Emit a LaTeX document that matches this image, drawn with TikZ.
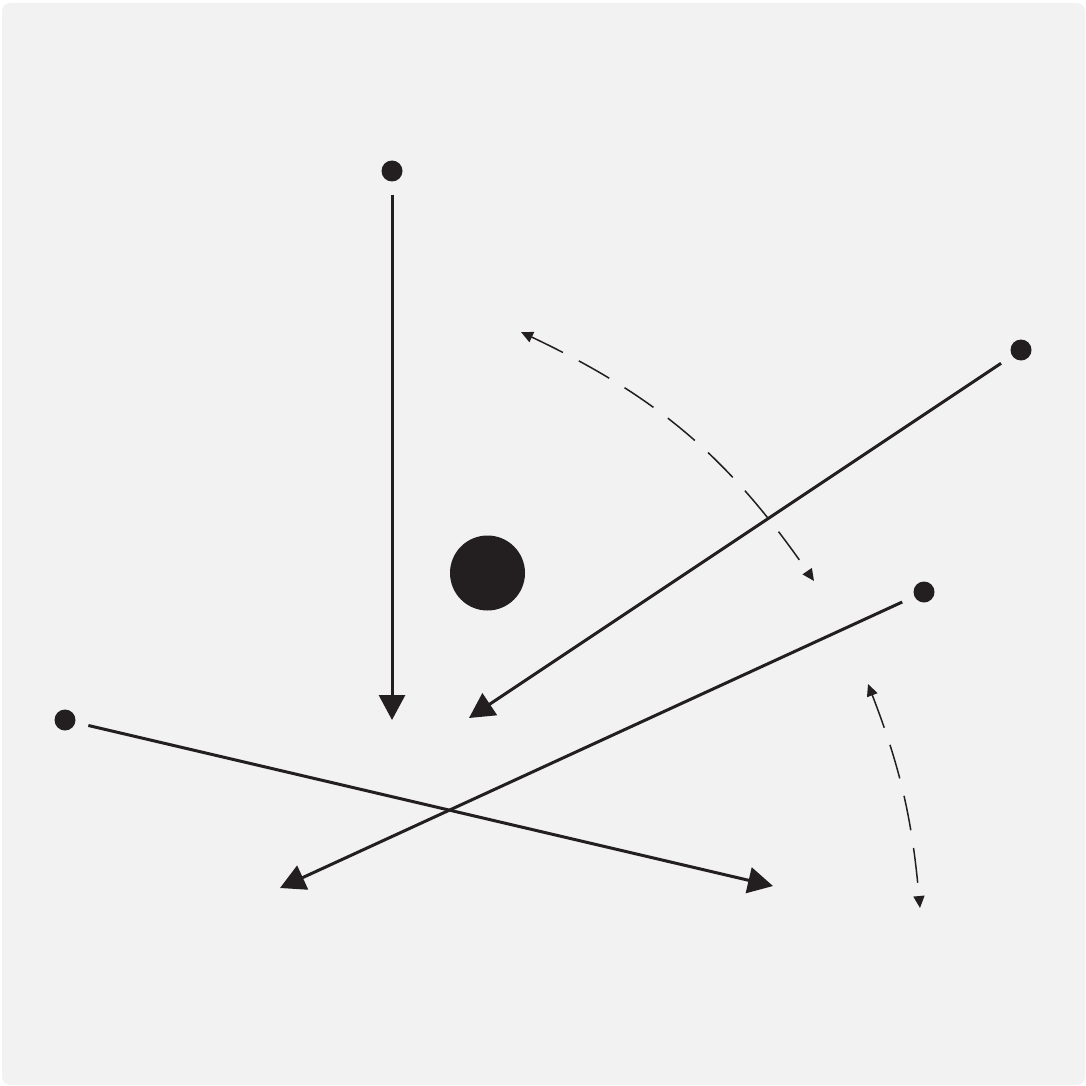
\documentclass[tikz,border=0pt]{standalone}
\usetikzlibrary{arrows.meta}
\definecolor{ink}{HTML}{231F20}
\definecolor{paper}{HTML}{F2F2F2}
\begin{document}
\begin{tikzpicture}[x=1pt,y=-1pt,
  dotnode/.style={circle,fill=ink,inner sep=0pt,minimum size=21pt,outer sep=0pt},
  bigdot/.style={circle,fill=ink,inner sep=0pt,minimum size=75pt},
  solidarrow/.style={draw=ink,line width=3pt,shorten <=13.5pt,-{Triangle[length=25pt,width=26pt]}},
  dasharrow/.style={draw=ink,line width=1.5pt,dash pattern=on 35pt off 18pt,{Triangle[length=12pt,width=11pt]}-{Triangle[length=12pt,width=11pt]}}]
\useasboundingbox (0,0) rectangle (1086,1086);
\fill[paper,rounded corners=8pt] (2,3) rectangle (1085,1085);
% dots
\node[dotnode] (d1) at (392,171) {};
\node[dotnode] (d2) at (1021,350) {};
\node[dotnode] (d3) at (924,592) {};
\node[dotnode] (d4) at (65,720) {};
\node[bigdot] (big) at (487.5,573) {};
% tips
\coordinate (t1) at (392,720);
\coordinate (t2) at (469,718);
\coordinate (t3) at (280,888);
\coordinate (t4) at (773,886);
\coordinate (a1) at (521,332);
\coordinate (b1) at (814,581);
\coordinate (a2) at (868,684);
\coordinate (b2) at (920,908);
% arrows
\draw[solidarrow] (d1) -- (t1);
\draw[solidarrow] (d2) -- (t2);
\draw[solidarrow] (d3) -- (t3);
\draw[solidarrow] (d4) -- (t4);
\draw[dasharrow] (a1) to[bend left=15] (b1);
\draw[dasharrow] (a2) to[bend left=8] (b2);
\end{tikzpicture}
\end{document}
